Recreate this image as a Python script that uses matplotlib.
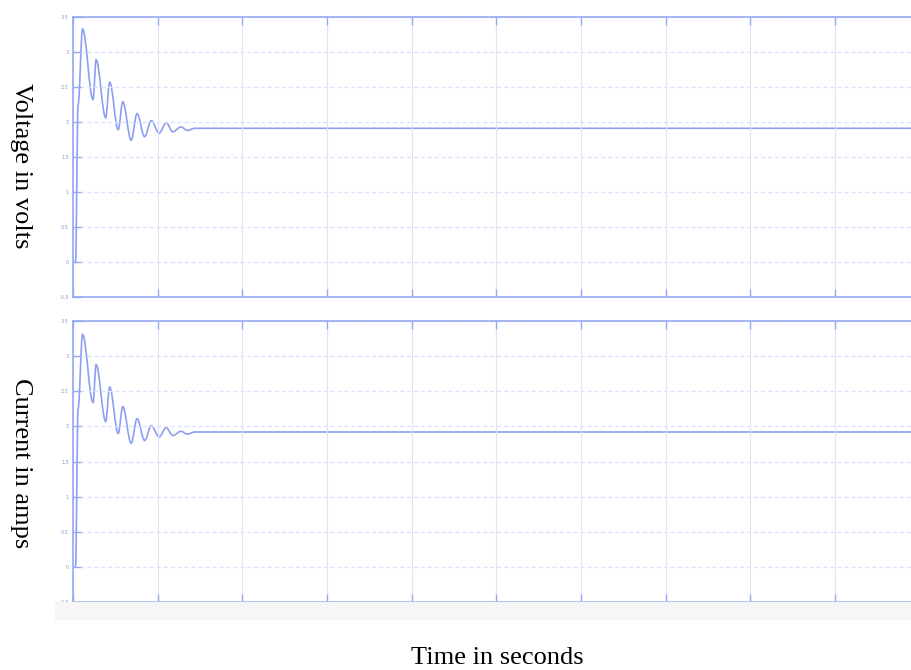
import matplotlib.pyplot as plt
from matplotlib.patches import Rectangle, PathPatch
from matplotlib.path import Path

# transient response (seconds, volts / amps)
time = [0.0, 0.0003, 0.0006, 0.00113, 0.00237, 0.00273, 0.00386, 0.00433,
        0.00534, 0.00588, 0.00687, 0.00757, 0.00846, 0.00924, 0.01018,
        0.0110, 0.0118, 0.01275, 0.0135, 0.0144, 0.0155, 0.0991]
voltage = [0.0, 0.0, 2.24, 3.33, 2.32, 2.89, 2.06, 2.57, 1.89, 2.29, 1.74,
           2.12, 1.79, 2.02, 1.84, 1.99, 1.86, 1.93, 1.88, 1.91, 1.91, 1.91]
current = [0.0, 0.0, 2.25, 3.31, 2.34, 2.88, 2.07, 2.56, 1.90, 2.28, 1.76,
           2.11, 1.80, 2.01, 1.85, 1.98, 1.87, 1.93, 1.89, 1.92, 1.92, 1.92]

yticks = [-0.5, 0, 0.5, 1, 1.5, 2, 2.5, 3, 3.5]
ytick_labels = ['-0.5', '0', '0.5', '1', '1.5', '2', '2.5', '3', '3.5']
xticks = [0, 0.01, 0.02, 0.03, 0.04, 0.05, 0.06, 0.07, 0.08, 0.09]
xtick_labels = ['0', '0.01', '0.02', '0.03', '0.04', '0.05', '0.06', '0.07', '0.08', '0.09']

line_col = '#8c9ff0'
grid_col = '#dde3fb'
spine_col = '#97a8f2'


def smooth_trace(ax, t, y):
    # bezier through the read points, flat tangents at each turning point
    verts = [(t[0], y[0])]
    codes = [Path.MOVETO]
    for i in range(1, len(t)):
        dt = t[i] - t[i - 1]
        verts += [(t[i - 1] + 0.35 * dt, y[i - 1]), (t[i] - 0.35 * dt, y[i]), (t[i], y[i])]
        codes += [Path.CURVE4] * 3
    ax.add_patch(PathPatch(Path(verts, codes), fill=False, edgecolor=line_col, lw=1.2))


fig = plt.figure(figsize=(9.12, 6.70), dpi=100)
W, H = 912, 670

# faint shadow under the lower scope
fig.patches.append(Rectangle((55 / W, 1 - 619 / H), (W - 55) / W, 17 / H,
                             transform=fig.transFigure, color='#f6f6f6', zorder=0))

ax1 = fig.add_axes([73 / W, 1 - 297 / H, (W - 73) / W, 280 / H])
ax2 = fig.add_axes([73 / W, 1 - 602 / H, (W - 73) / W, 281 / H])

for ax, y in [(ax1, voltage), (ax2, current)]:
    smooth_trace(ax, time, y)
    ax.set_xlim(0, 0.0991)
    ax.set_ylim(-0.5, 3.5)
    ax.set_yticks(yticks)
    ax.set_yticklabels(ytick_labels)
    ax.set_xticks(xticks)
    ax.grid(axis='y', color=grid_col, ls=(0, (3, 2)), lw=1.0)
    ax.grid(axis='x', color=grid_col, ls='-', lw=0.8)
    ax.tick_params(direction='in', length=6, width=1.0, color=spine_col,
                   labelcolor='#8a98d8', labelsize=3.5, pad=3,
                   top=True, bottom=True, left=True, right=False)
    for s in ax.spines.values():
        s.set_color(spine_col)
        s.set_linewidth(1.2)
    ax.spines['right'].set_visible(False)

ax1.set_xticklabels([])
ax2.set_xticklabels(xtick_labels)

fig.text(21 / W, 1 - 166 / H, 'Voltage in volts', rotation=270, ha='center', va='center',
         family='Liberation Serif', fontsize=19)
fig.text(21 / W, 1 - 463 / H, 'Current in amps', rotation=270, ha='center', va='center',
         family='Liberation Serif', fontsize=19)
fig.text(497 / W, 1 - 658 / H, 'Time in seconds', ha='center', va='center',
         family='Liberation Serif', fontsize=19)

fig.savefig('out.png', dpi=100)
